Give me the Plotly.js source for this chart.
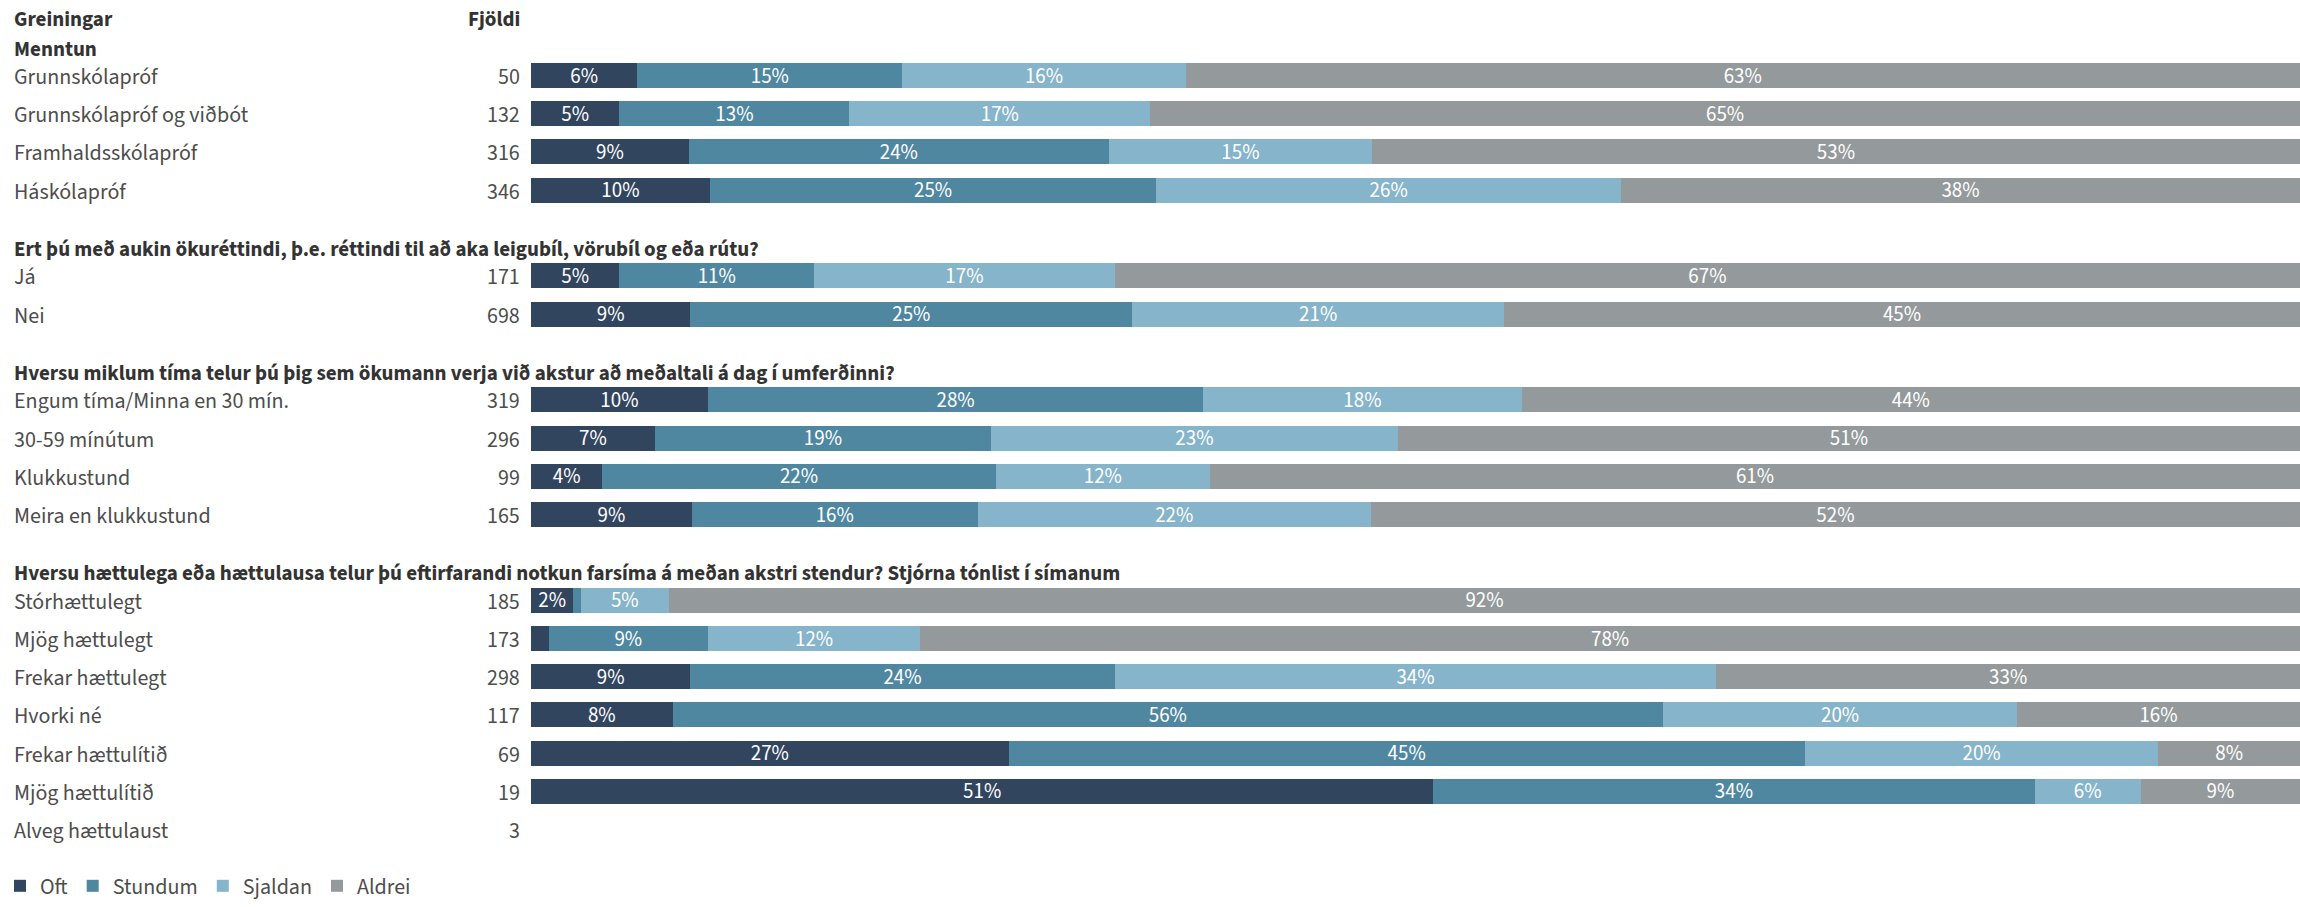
<!DOCTYPE html>
<html>
<head>
<meta charset="utf-8">
<script src="https://cdn.plot.ly/plotly-3.0.1.min.js"></script>
<style>
  html, body { margin: 0; padding: 0; background: #ffffff; }
  #chart { width: 2300px; height: 907px; }
</style>
</head>
<body>
<div id="chart"></div>
<script>
// ---------------- DATA ----------------
const groupTitles = [
  "Menntun",
  "Ert þú með aukin ökuréttindi, þ.e. réttindi til að aka leigubíl, vörubíl og eða rútu?",
  "Hversu miklum tíma telur þú þig sem ökumann verja við akstur að meðaltali á dag í umferðinni?",
  "Hversu hættulega eða hættulausa telur þú eftirfarandi notkun farsíma á meðan akstri stendur? Stjórna tónlist í símanum"
];
const rowLabels = [
  "Grunnskólapróf", "Grunnskólapróf og viðbót", "Framhaldsskólapróf", "Háskólapróf",
  "Já", "Nei",
  "Engum tíma/Minna en 30 mín.", "30-59 mínútum", "Klukkustund", "Meira en klukkustund",
  "Stórhættulegt", "Mjög hættulegt", "Frekar hættulegt", "Hvorki né",
  "Frekar hættulítið", "Mjög hættulítið", "Alveg hættulaust"
];
const rowGroup = [0,0,0,0, 1,1, 2,2,2,2, 3,3,3,3,3,3,3];
const counts   = [50,132,316,346, 171,698, 319,296,99,165, 185,173,298,117,69,19,3];
const seriesNames = ["Oft", "Stundum", "Sjaldan", "Aldrei"];
const oft     = [6,5,9,10, 5,9, 10,7,4,9, 2.4,1,9,8,27,51,null];
const stundum = [15,13,24,25, 11,25, 28,19,22,16, 0.4,9,24,56,45,34,null];
const sjaldan = [16,17,15,26, 17,21, 18,23,12,22, 5,12,34,20,20,6,null];
const aldrei  = [63,65,53,38, 67,45, 44,51,61,52, 92.2,78,33,16,8,9,null];
const headerLeft = "Greiningar";
const headerRight = "Fjöldi";

// ---------------- STYLE / LAYOUT ----------------
const W = 2300, H = 907;
const ML = 531;                 // left margin (plot area starts here)
const PW = W - ML;
const FONT = '"Source Sans Pro", "Source Sans 3", Lato, "Noto Sans", sans-serif';
const colors = ["#32455f", "#4f87a1", "#86b4ca", "#949a9b"];
const textColor = "#4d4d4d";
const headColor = "#333333";
const LABEL_SIZE = 22;
const HEAD_SIZE = 21;
const BAR_TEXT_SIZE = 21;

// vertical layout (y axis is in pixel-like units, reversed)
const HEADER_Y = 19, FIRST_GROUP_Y = 48.5, HEAD_TO_ROW = 27, ROW_STEP = 38.2, ROW_TO_HEAD = 58.8;
const TEXT_DY = 1.5;
const groupY = [];
const rowY = [];
let cur = FIRST_GROUP_Y;
for (let i = 0; i < rowLabels.length; i++) {
  const g = rowGroup[i];
  if (groupY[g] === undefined) {
    if (g > 0) cur = rowY[i - 1] + ROW_TO_HEAD;
    groupY[g] = cur;
    cur = cur + HEAD_TO_ROW;
  } else {
    cur = rowY[i - 1] + ROW_STEP;
  }
  rowY.push(cur);
}

const px = v => (v - ML) / PW;  // pixel -> paper x

const seriesVals = [oft, stundum, sjaldan, aldrei];
const traces = seriesVals.map((vals, k) => ({
  type: "bar",
  orientation: "h",
  name: seriesNames[k],
  x: vals,
  y: rowY,
  width: 25,
  marker: { color: colors[k], line: { width: 0 } },
  text: vals.map(v => (v == null || v < 1.5) ? "" : Math.round(v) + "%"),
  textposition: "inside",
  insidetextanchor: "middle",
  constraintext: "none",
  textangle: 0,
  textfont: { family: FONT, size: BAR_TEXT_SIZE, color: "#ffffff" },
  hoverinfo: "name+x",
  cliponaxis: false
}));

const annotations = [];
function addText(x, y, t, anchor, color, size) {
  annotations.push({ xref: "paper", yref: "y", x: px(x), y: y, xanchor: anchor, yanchor: "middle",
    text: t, showarrow: false, font: { family: FONT, size: size, color: color } });
}
addText(12, HEADER_Y, "<b>" + headerLeft + "</b>", "left", headColor, HEAD_SIZE);
addText(522, HEADER_Y, "<b>" + headerRight + "</b>", "right", headColor, HEAD_SIZE);
groupTitles.forEach((t, g) => addText(12, groupY[g], "<b>" + t + "</b>", "left", headColor, HEAD_SIZE));
rowLabels.forEach((t, i) => {
  addText(12, rowY[i] + TEXT_DY, t, "left", textColor, LABEL_SIZE);
  addText(522, rowY[i] + TEXT_DY, String(counts[i]), "right", textColor, LABEL_SIZE);
});

const layout = {
  width: W, height: H,
  margin: { l: ML, r: 0, t: 0, b: 0, pad: 0, autoexpand: false },
  paper_bgcolor: "#ffffff", plot_bgcolor: "#ffffff",
  barmode: "stack",
  barnorm: "percent",
  bargap: 0,
  font: { family: FONT, size: LABEL_SIZE, color: textColor },
  xaxis: { range: [0, 100], visible: false, fixedrange: true },
  yaxis: { range: [H, 0], visible: false, fixedrange: true },
  showlegend: true,
  legend: {
    orientation: "h",
    xref: "container", yref: "container",
    x: -0.002, xanchor: "left",
    y: -0.006, yanchor: "bottom",
    font: { family: FONT, size: LABEL_SIZE, color: textColor },
    traceorder: "normal",
    itemclick: false, itemdoubleclick: false,
    bgcolor: "rgba(0,0,0,0)"
  },
  annotations: annotations
};

Plotly.newPlot("chart", traces, layout, { displayModeBar: false, staticPlot: true });
</script>
</body>
</html>
